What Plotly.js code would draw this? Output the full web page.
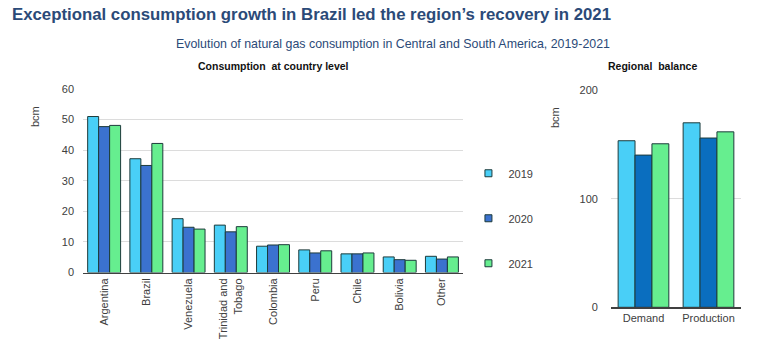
<!DOCTYPE html>
<html><head><meta charset="utf-8">
<script src="https://cdn.plot.ly/plotly-3.0.1.min.js"></script>
<style>html,body{margin:0;padding:0;background:#fff}#c{width:773px;height:360px}</style>
</head><body><div id="c"></div>
<script>
const countries = ["Argentina","Brazil","Venezuela","Trinidad and<br>Tobago","Colombia","Peru","Chile","Bolivia","Other"];
const c2019 = [51.0, 37.2, 17.6, 15.5, 8.6, 7.4, 6.1, 5.1, 5.3];
const c2020 = [47.7, 35.0, 14.8, 13.3, 9.0, 6.4, 6.1, 4.2, 4.4];
const c2021 = [48.1, 42.2, 14.2, 15.0, 9.1, 7.1, 6.4, 4.0, 5.1];
const balanceCats = ["Demand","Production"];
const b2019 = [153.3, 169.8];
const b2020 = [140.1, 155.8];
const b2021 = [150.5, 161.5];
const years = ["2019","2020","2021"];

const colL = ["#49cff7","#3b72cf","#66ee8f"];
const colR = ["#49cff7","#0a6ebf","#66ee8f"];
const edge = {color:"#1d3b3b", width:1};

const traces = [];
[c2019,c2020,c2021].forEach((v,i)=>traces.push({type:"bar",x:countries,y:v,xaxis:"x",yaxis:"y",
  marker:{color:colL[i],line:edge},showlegend:false,hoverinfo:"x+y"}));
[b2019,b2020,b2021].forEach((v,i)=>traces.push({type:"bar",x:balanceCats,y:v,xaxis:"x2",yaxis:"y2",
  marker:{color:colR[i],line:edge},showlegend:false}));
years.forEach((y,i)=>traces.push({type:"scatter",mode:"markers",x:[null],y:[null],xaxis:"x",yaxis:"y",
  name:y,legendgroup:y,marker:{symbol:"square",size:7,color:colL[i],line:{color:"#1d3b3b",width:1}}}));

const tickFont = {family:"Liberation Sans, Arial, sans-serif", size:11, color:"#404040"};
const layout = {
  width:773, height:360, margin:{l:0,r:0,t:0,b:0},
  paper_bgcolor:"#fff", plot_bgcolor:"#fff",
  font:{family:"Liberation Sans, Arial, sans-serif", color:"#404040"},
  barmode:"group", bargap:0.22, bargroupgap:0,
  xaxis:{domain:[0.1074,0.599], anchor:"y", tickangle:-90, tickfont:tickFont,
    showline:true, linecolor:"#404040", linewidth:1.5, showgrid:false, ticks:"", fixedrange:true},
  yaxis:{domain:[0.243,0.7528], anchor:"x", range:[0,60], dtick:10, tickfont:tickFont,
    gridcolor:"#dcdcdc", zeroline:false, showline:false, ticklabelstandoff:8},
  xaxis2:{domain:[0.7904,0.9586], anchor:"y2", tickfont:tickFont,
    showline:true, linecolor:"#404040", linewidth:1.5, showgrid:false, ticks:""},
  yaxis2:{domain:[0.1464,0.75], anchor:"x2", range:[0,200], dtick:100, tickfont:tickFont,
    gridcolor:"#dcdcdc", zeroline:false, showline:false, ticklabelstandoff:12},
  legend:{x:0.606, y:0.559, xanchor:"left", yanchor:"top", tracegroupgap:26,
    font:{family:"Liberation Sans, Arial, sans-serif", size:11, color:"#404040"}, itemwidth:30},
  annotations:[
    {text:"<b>Exceptional consumption growth in Brazil led the region’s recovery in 2021</b>", xref:"paper", yref:"paper",
      x:10/773, y:1-15/360, xanchor:"left", yanchor:"middle", showarrow:false,
      font:{size:16.8, color:"#2b4a78", family:"Liberation Sans, Arial, sans-serif"}},
    {text:"Evolution of natural gas consumption in Central and South America, 2019-2021", xref:"paper", yref:"paper",
      x:612/773, y:1-44/360, xanchor:"right", yanchor:"middle", showarrow:false,
      font:{size:12.4, color:"#2b4a78", family:"Liberation Sans, Arial, sans-serif"}},
    {text:"<b>Consumption  at country level</b>", xref:"paper", yref:"paper",
      x:273/773, y:1-66/360, xanchor:"center", yanchor:"middle", showarrow:false,
      font:{size:10.5, color:"#111", family:"Liberation Sans, Arial, sans-serif"}},
    {text:"<b>Regional  balance</b>", xref:"paper", yref:"paper",
      x:652/773, y:1-66/360, xanchor:"center", yanchor:"middle", showarrow:false,
      font:{size:10.5, color:"#111", family:"Liberation Sans, Arial, sans-serif"}},
    {text:"bcm", xref:"paper", yref:"paper", x:35/773, y:1-117/360, textangle:-90,
      xanchor:"center", yanchor:"middle", showarrow:false, font:{size:11, color:"#404040"}},
    {text:"bcm", xref:"paper", yref:"paper", x:555/773, y:1-118/360, textangle:-90,
      xanchor:"center", yanchor:"middle", showarrow:false, font:{size:11, color:"#404040"}}
  ]
};
Plotly.newPlot("c", traces, layout, {staticPlot:true, displayModeBar:false});
</script></body></html>
